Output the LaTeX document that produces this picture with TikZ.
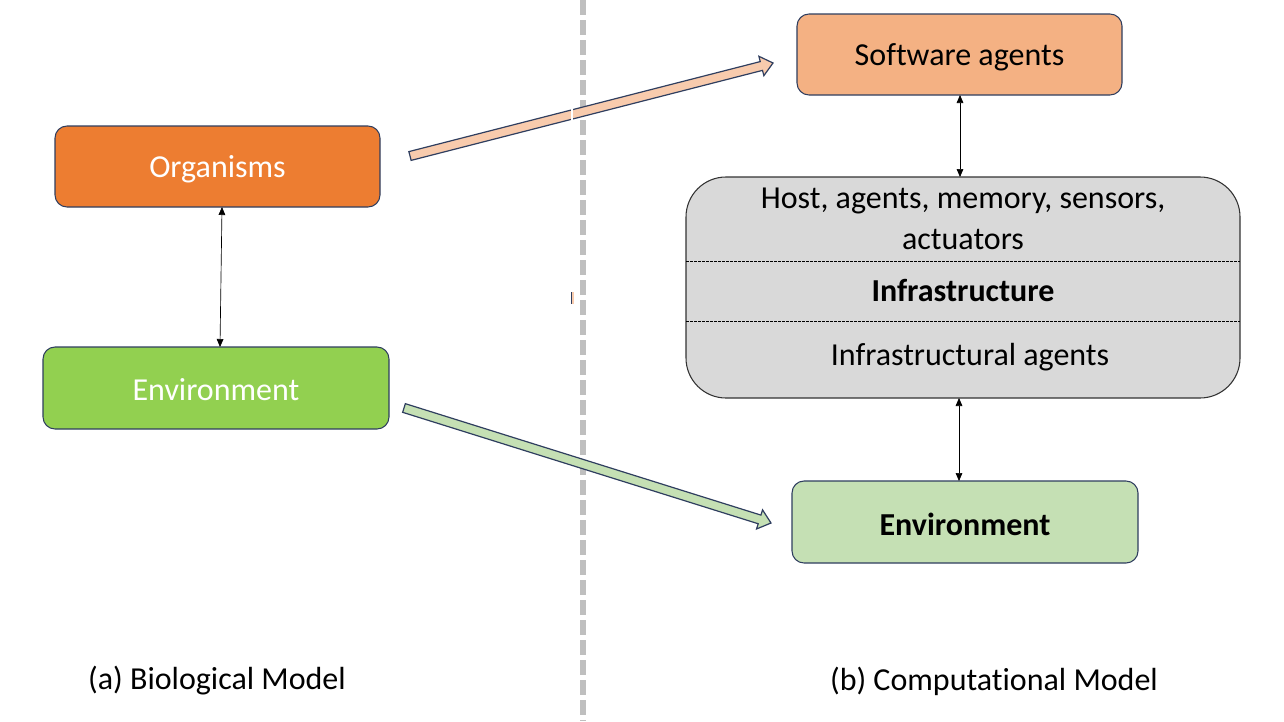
\documentclass[tikz,border=0pt]{standalone}
\usepackage{fontspec}
\setmainfont{Carlito}[Ligatures={NoCommon}]
\usetikzlibrary{calc,arrows.meta}
\definecolor{navy}{HTML}{2F3E5F}
\definecolor{orgfill}{HTML}{ED7D31}
\definecolor{envfill}{HTML}{92D050}
\definecolor{swfill}{HTML}{F4B183}
\definecolor{infill}{HTML}{D9D9D9}
\definecolor{env2fill}{HTML}{C5E0B4}
\definecolor{orarrow}{HTML}{F8CBAD}
\definecolor{divgray}{HTML}{BFBFBF}
\tikzset{
  boxstyle/.style={draw=navy, line width=0.8pt, rounded corners=9pt, font=\fontsize{24}{29}\selectfont},
  txt/.style={font=\fontsize{24}{29}\selectfont, inner sep=0pt},
  dbl/.style={{Triangle[length=6pt,width=5pt]}-{Triangle[length=6pt,width=5pt]}, line width=0.5pt, black},
  blockarrow/.style={draw=navy, line width=0.9pt, line join=miter},
}
% block arrow: #1 fill, #2 tail coord, #3 tip coord
\newcommand{\blockarr}[3]{%
  \coordinate (hb) at ($(#3)!9pt!(#2)$);
  \fill[#1] ($(#2)!3.4pt!90:(#3)$) -- ($(hb)!3.4pt!90:(#3)$) -- ($(hb)!7.5pt!90:(#3)$) -- (#3)
    -- ($(hb)!7.5pt!-90:(#3)$) -- ($(hb)!3.4pt!-90:(#3)$) -- ($(#2)!3.4pt!-90:(#3)$) -- cycle;
  \draw[blockarrow] ($(#2)!3.4pt!90:(#3)$) -- ($(hb)!3.4pt!90:(#3)$) -- ($(hb)!7.5pt!90:(#3)$) -- (#3)
    -- ($(hb)!7.5pt!-90:(#3)$) -- ($(hb)!3.4pt!-90:(#3)$) -- ($(#2)!3.4pt!-90:(#3)$) -- cycle;
}
\begin{document}
\begin{tikzpicture}[x=0.75pt,y=-0.75pt]
\useasboundingbox (0,0) rectangle (1284,721);
\fill[white] (0,0) rectangle (1284,721);

% divider
\draw[divgray, line width=4.5pt, dash pattern=on 11.5pt off 3.5pt] (583,0) -- (583,721);

% left boxes
\draw[boxstyle, fill=orgfill] (55,126) rectangle (380,207);
\node[txt, text=white] (org) at (217.5,169) {Organisms};
\coordinate (orgB) at (222,207);
\draw[boxstyle, fill=envfill] (43,347) rectangle (389,429);
\node[txt, text=white] (envL) at (216,390) {Environment};
\coordinate (envT) at (220,347);

% right boxes
\draw[boxstyle, fill=swfill] (797,14) rectangle (1122,95);
\node[txt] (sw) at (959.5,57) {Software agents};
\draw[boxstyle, draw=black!80, rounded corners=30pt, fill=infill] (686,177) rectangle (1240,398);
\draw[dashed, line width=0.5pt, dash pattern=on 2pt off 1pt] (686,261) -- (1240,261);
\draw[dashed, line width=0.5pt, dash pattern=on 2pt off 1pt] (686,321) -- (1240,321);
\node[txt] (host) at (963,201) {Host, agents, memory, sensors,};
\node[txt] (act) at (963,239) {actuators};
\node[txt, font=\fontsize{24}{29}\selectfont\bfseries] (infra) at (963,290) {Infrastructure};
\node[txt] (infag) at (970,357) {Infrastructural agents};
\draw[boxstyle, fill=env2fill] (792,481) rectangle (1138,563);
\node[txt, font=\fontsize{24}{29}\selectfont\bfseries] (envR) at (965,524) {Environment};

% double arrows
\draw[dbl] (orgB) -- (envT);
\coordinate (swB) at (960,95);
\coordinate (inT) at (960,177);
\coordinate (inB) at (959,398);
\coordinate (envRT) at (959,481);
\draw[dbl] (swB) -- (inT);
\draw[dbl] (inB) -- (envRT);

% block arrows
\coordinate (oa1) at (410,156);
\coordinate (oa2) at (773,63);
\blockarr{orarrow}{oa1}{oa2}
\draw[white, line width=1.6pt] (572,103) -- (572,122);
\coordinate (ga1) at (404,408);
\coordinate (ga2) at (771,523);
\blockarr{env2fill}{ga1}{ga2}

% small artifact
\fill[orarrow] (571,292) rectangle (573.5,304);
\draw[navy, line width=0.6pt] (571,292) -- (571,304);

% captions
\node[txt] (capa) at (217,681) {(a) Biological Model};
\node[txt] (capb) at (994,681) {(b) Computational Model};
\end{tikzpicture}
\end{document}
